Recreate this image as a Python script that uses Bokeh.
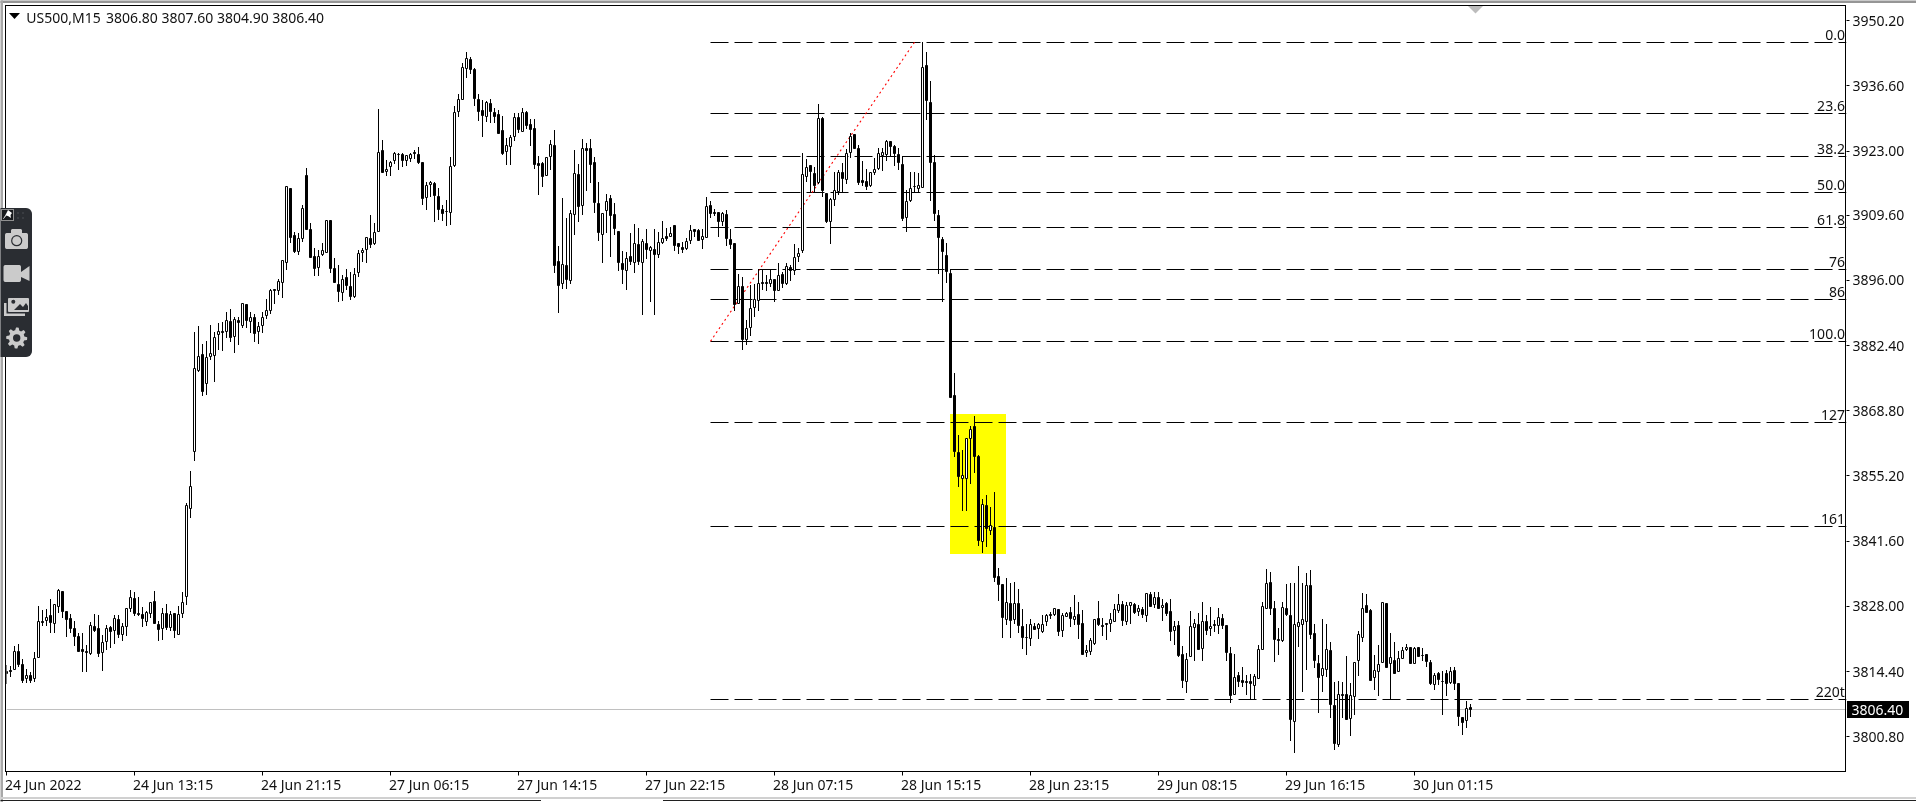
import math
from bokeh.plotting import figure
from bokeh.embed import file_html
from bokeh.resources import INLINE
from bokeh.core.properties import value
from bokeh.models import ColumnDataSource, FixedTicker, LinearAxis, Range1d

symbol_text = "US500,M15"
quote_text = "3806.80 3807.60 3804.90 3806.40"
last_price_text = "3806.40"

opens = [
3814.0,3814.7,3814.9,3818.6,3815.8,3812.9,3813.6,3812.9,3817.3,3824.9,
3825.0,3826.0,3824.5,3827.9,3831.1,3827.0,3825.5,3823.4,3821.8,3819.0,
3818.6,3818.1,3823.8,3823.4,3818.4,3820.6,3823.6,3823.0,3825.3,3822.2,
3823.8,3827.5,3829.7,3826.6,3826.3,3824.9,3826.5,3829.1,3824.3,3823.4,
3826.6,3823.5,3826.6,3822.2,3826.6,3830.0,3848.5,3860.3,3877.2,3880.6,
3874.5,3880.1,3880.4,3884.7,3885.3,3885.3,3887.5,3884.3,3887.7,3886.7,
3890.9,3887.4,3888.3,3885.3,3886.6,3888.7,3889.8,3894.1,3894.0,3895.5,
3899.8,3915.1,3905.4,3902.0,3904.7,3918.0,3906.7,3901.0,3898.7,3901.5,
3901.9,3908.5,3898.4,3895.2,3893.4,3896.7,3894.8,3892.6,3897.6,3901.8,
3902.5,3904.8,3903.7,3906.3,3923.2,3918.8,3919.7,3921.0,3922.3,3922.2,
3921.0,3921.5,3922.6,3922.3,3920.6,3913.3,3916.1,3916.3,3913.6,3910.7,
3910.4,3910.2,3920.0,3931.3,3933.8,3940.3,3942.1,3940.1,3933.8,3931.5,
3930.2,3933.0,3931.1,3930.7,3927.2,3922.9,3923.9,3926.0,3930.0,3927.0,
3931.1,3928.6,3927.7,3920.4,3920.4,3917.9,3921.8,3924.1,3900.0,3895.4,
3899.2,3896.0,3909.8,3918.2,3911.6,3923.6,3923.6,3920.6,3912.1,3905.6,
3910.5,3913.1,3909.8,3906.3,3899.6,3898.0,3901.0,3899.7,3903.6,3899.7,
3903.7,3902.2,3902.5,3901.4,3904.0,3905.2,3905.1,3907.5,3903.7,3902.9,
3902.6,3904.3,3906.6,3906.5,3904.5,3905.0,3911.7,3910.1,3910.1,3908.2,
3909.8,3904.6,3903.7,3891.2,3894.8,3883.6,3886.1,3890.3,3891.9,3895.5,
3895.6,3895.3,3896.2,3894.0,3897.3,3895.3,3898.7,3898.0,3901.0,3902.2,
3917.7,3919.9,3918.4,3916.4,3929.8,3914.2,3908.3,3912.9,3914.5,3918.5,
3917.0,3922.7,3926.5,3923.5,3916.9,3916.7,3915.8,3918.5,3919.4,3922.0,
3922.2,3924.9,3923.9,3922.3,3920.1,3909.2,3912.7,3915.6,3915.2,3915.4,
3940.9,3933.2,3920.6,3909.6,3904.6,3901.2,3897.5,3871.9,3860.1,3854.6,
3854.7,3863.1,3865.6,3859.2,3841.5,3849.0,3843.9,3844.5,3834.3,3832.5,
3825.3,3828.6,3825.3,3828.5,3823.8,3821.5,3821.3,3823.8,3823.4,3822.7,
3824.8,3826.2,3826.2,3827.4,3823.0,3825.9,3826.8,3825.3,3826.2,3824.5,
3818.3,3818.6,3820.3,3825.5,3823.9,3824.4,3824.5,3824.8,3827.2,3828.4,
3824.8,3828.2,3828.4,3826.9,3827.4,3826.1,3830.5,3828.4,3829.9,3827.7,
3828.5,3827.0,3822.9,3824.0,3818.0,3812.3,3817.5,3823.6,3824.3,3819.2,
3824.9,3823.4,3824.2,3823.9,3825.5,3824.0,3818.2,3809.6,3813.5,3812.6,
3812.3,3812.4,3811.5,3812.9,3818.9,3827.5,3833.0,3827.6,3821.0,3820.8,
3827.6,3826.0,3804.0,3823.8,3824.2,3824.8,3832.4,3822.4,3816.1,3813.5,
3814.9,3818.8,3807.4,3799.2,3809.6,3809.6,3804.6,3809.2,3816.7,3821.5,
3828.2,3827.2,3813.1,3814.4,3816.3,3828.5,3816.1,3816.7,3814.4,3817.2,
3819.0,3819.5,3816.1,3819.5,3817.8,3817.9,3816.3,3811.7,3813.9,3812.4,
3813.9,3812.1,3814.7,3811.9,3804.8,3804.2,3806.8]

highs = [
3815.8,3815.6,3819.7,3820.1,3817.0,3814.9,3814.3,3818.4,3828.1,3827.2,
3827.4,3829.5,3828.5,3831.6,3831.3,3827.0,3826.3,3825.0,3822.4,3822.4,
3820.0,3824.7,3826.3,3826.2,3822.0,3824.1,3824.0,3826.2,3826.2,3824.5,
3827.6,3831.4,3830.9,3830.0,3827.8,3827.1,3829.0,3831.2,3825.0,3827.6,
3828.5,3827.0,3826.7,3828.1,3831.0,3849.5,3856.2,3885.3,3886.5,3882.7,
3883.4,3886.7,3885.3,3887.1,3887.4,3889.4,3890.0,3888.3,3888.4,3891.2,
3890.9,3889.5,3889.0,3887.4,3889.5,3892.1,3894.2,3894.3,3896.4,3900.1,
3915.6,3915.2,3906.2,3905.8,3911.8,3919.4,3907.9,3902.7,3902.4,3903.8,
3908.6,3908.6,3900.6,3899.2,3897.1,3898.3,3897.8,3898.5,3902.4,3902.7,
3905.1,3909.7,3907.9,3931.8,3925.3,3921.1,3921.0,3922.9,3922.5,3922.5,
3922.2,3922.5,3923.2,3923.9,3920.6,3916.6,3916.8,3916.6,3915.2,3911.7,
3912.8,3921.7,3932.5,3934.8,3941.3,3943.6,3942.7,3940.3,3935.0,3933.7,
3933.5,3933.8,3931.9,3931.6,3930.3,3925.7,3926.4,3930.9,3931.0,3931.9,
3931.4,3929.6,3929.6,3922.0,3920.8,3921.8,3925.4,3927.4,3903.2,3913.1,
3909.0,3910.8,3923.2,3920.3,3925.6,3924.6,3925.6,3921.7,3916.5,3910.0,
3914.0,3913.8,3912.1,3906.3,3902.1,3902.0,3906.0,3907.8,3906.9,3904.6,
3906.7,3903.1,3906.7,3906.2,3908.4,3906.9,3907.1,3907.5,3903.9,3904.1,
3904.8,3907.5,3906.7,3906.7,3906.7,3913.5,3912.6,3911.0,3910.3,3910.3,
3910.7,3906.7,3903.7,3897.3,3896.7,3887.7,3895.0,3895.3,3898.3,3898.3,
3897.1,3898.3,3896.2,3899.6,3897.8,3899.7,3899.2,3903.6,3902.7,3922.5,
3921.3,3920.1,3919.7,3932.8,3930.2,3914.3,3913.1,3918.7,3919.0,3920.6,
3923.4,3926.8,3926.5,3924.2,3920.9,3919.2,3918.7,3921.5,3923.6,3923.6,
3925.3,3925.1,3924.3,3923.6,3922.0,3914.9,3918.7,3918.7,3918.5,3945.7,
3943.7,3937.6,3922.2,3910.7,3905.0,3903.9,3898.3,3876.6,3863.8,3860.6,
3863.2,3865.6,3867.7,3859.6,3850.5,3851.2,3848.8,3851.9,3836.1,3832.5,
3834.0,3832.8,3833.1,3831.6,3827.4,3824.3,3825.3,3824.5,3824.6,3826.2,
3826.4,3826.9,3827.6,3827.4,3826.6,3826.9,3827.9,3830.4,3829.0,3827.2,
3820.0,3821.3,3825.4,3829.1,3825.5,3824.4,3826.6,3828.5,3830.6,3829.1,
3829.0,3829.0,3828.6,3828.2,3827.8,3830.7,3830.9,3830.9,3830.9,3829.5,
3829.0,3829.5,3825.0,3825.0,3819.8,3818.2,3827.1,3825.4,3826.6,3829.0,
3826.2,3827.8,3825.2,3827.6,3826.4,3824.0,3819.5,3818.1,3814.4,3815.4,
3813.7,3813.9,3813.9,3820.0,3829.0,3835.8,3835.2,3829.1,3823.4,3829.0,
3832.7,3832.8,3832.8,3836.4,3832.8,3834.9,3835.6,3824.3,3817.9,3825.3,
3824.3,3820.6,3812.2,3812.5,3812.2,3817.6,3812.1,3816.3,3822.8,3830.7,
3830.6,3827.4,3817.9,3819.9,3829.0,3828.5,3822.4,3820.6,3818.6,3819.5,
3820.2,3819.6,3819.6,3819.6,3819.3,3817.9,3816.8,3814.0,3814.2,3814.6,
3814.7,3815.3,3815.3,3811.9,3804.8,3808.3,3807.6]

lows = [
3811.9,3813.3,3814.9,3815.4,3812.1,3812.1,3812.1,3812.2,3817.3,3823.9,
3823.8,3822.5,3822.5,3826.6,3825.5,3821.7,3822.5,3819.8,3818.4,3814.4,
3814.2,3817.9,3822.7,3817.5,3814.6,3818.8,3819.4,3820.2,3821.3,3820.8,
3821.8,3826.9,3825.9,3825.9,3823.6,3823.9,3825.6,3824.3,3820.8,3821.0,
3823.1,3822.9,3821.4,3822.0,3825.6,3828.3,3846.5,3858.4,3876.8,3871.9,
3872.1,3879.5,3874.9,3881.5,3881.3,3883.9,3883.2,3880.9,3882.5,3886.0,
3886.0,3885.0,3883.2,3882.7,3885.0,3887.9,3889.1,3891.1,3893.0,3892.3,
3898.2,3903.8,3901.7,3901.3,3904.1,3906.5,3900.6,3897.0,3896.9,3901.0,
3901.7,3897.6,3895.4,3891.6,3891.7,3894.0,3891.9,3892.3,3896.8,3899.9,
3899.7,3902.7,3903.4,3906.2,3918.5,3917.7,3917.7,3920.4,3919.0,3919.7,
3919.9,3920.8,3921.3,3920.4,3911.7,3910.8,3913.5,3908.1,3908.6,3908.5,
3907.4,3907.6,3919.7,3930.2,3933.7,3938.2,3939.1,3932.4,3929.3,3926.0,
3929.1,3928.9,3928.8,3926.6,3922.2,3920.1,3920.0,3925.0,3926.7,3927.0,
3927.7,3924.1,3919.3,3913.8,3915.4,3917.7,3919.0,3897.6,3889.3,3894.3,
3894.3,3895.3,3905.5,3908.2,3909.7,3914.7,3916.3,3910.1,3904.3,3899.7,
3906.0,3900.8,3905.5,3898.0,3895.3,3894.0,3899.2,3897.6,3899.2,3888.7,
3900.4,3891.6,3888.7,3900.6,3903.7,3904.3,3905.0,3902.2,3901.5,3901.8,
3902.4,3903.6,3905.1,3904.3,3902.5,3904.8,3909.0,3909.5,3905.0,3907.4,
3903.2,3902.6,3889.6,3891.1,3881.5,3882.5,3884.4,3888.4,3889.6,3894.1,
3893.8,3894.7,3891.6,3893.7,3894.4,3895.0,3895.9,3897.1,3899.9,3901.7,
3916.6,3914.3,3914.4,3916.1,3913.5,3907.9,3903.6,3911.5,3913.8,3914.2,
3916.1,3921.5,3923.5,3915.9,3915.8,3914.9,3915.6,3918.0,3919.0,3918.9,
3921.0,3921.8,3919.9,3919.0,3908.5,3906.2,3912.4,3914.3,3914.3,3915.3,
3929.5,3912.6,3908.5,3897.3,3891.4,3895.4,3871.4,3859.1,3852.8,3847.8,
3847.8,3853.5,3855.9,3840.5,3839.2,3840.3,3842.9,3833.0,3829.2,3821.3,
3824.1,3821.3,3824.3,3822.4,3819.2,3817.9,3819.7,3823.1,3821.1,3822.5,
3823.8,3825.3,3825.9,3821.8,3821.5,3825.7,3823.6,3824.1,3821.1,3817.9,
3817.5,3817.9,3820.0,3823.8,3821.8,3821.0,3822.7,3824.7,3826.6,3823.9,
3824.1,3824.3,3826.4,3825.9,3825.5,3824.8,3827.8,3827.6,3827.4,3825.0,
3825.9,3820.8,3820.0,3817.4,3810.9,3810.0,3817.5,3816.7,3818.8,3816.5,
3822.0,3821.8,3822.7,3822.2,3823.3,3816.5,3807.9,3809.6,3811.2,3811.1,
3809.5,3808.6,3808.6,3812.8,3818.8,3827.4,3826.2,3816.3,3817.9,3820.6,
3825.9,3800.0,3797.5,3819.6,3810.2,3814.7,3821.1,3815.1,3805.8,3810.2,
3813.2,3804.6,3798.0,3798.7,3804.6,3804.2,3801.0,3805.3,3813.5,3820.6,
3826.6,3812.5,3810.6,3809.2,3816.1,3815.1,3808.6,3813.9,3814.4,3817.2,
3818.6,3816.0,3816.0,3817.4,3816.5,3815.3,3811.6,3810.6,3811.6,3805.3,
3809.2,3811.9,3810.5,3803.1,3801.2,3802.7,3804.9]

closes = [
3814.5,3814.4,3818.6,3815.8,3812.6,3813.5,3812.6,3817.2,3824.9,3824.6,
3825.7,3824.6,3828.3,3831.4,3826.9,3825.3,3823.3,3821.8,3818.5,3818.5,
3818.4,3824.0,3822.9,3818.1,3820.5,3823.4,3822.7,3825.5,3822.2,3823.8,
3827.5,3829.9,3826.5,3826.2,3825.4,3826.8,3828.9,3824.4,3823.2,3826.6,
3823.6,3826.4,3822.9,3826.3,3828.9,3849.1,3853.0,3877.7,3880.2,3872.8,
3880.0,3880.8,3884.1,3885.3,3885.1,3887.6,3884.0,3887.9,3887.2,3891.2,
3887.6,3888.3,3885.0,3886.4,3888.2,3889.7,3893.8,3894.0,3895.7,3900.1,
3915.6,3904.9,3902.1,3904.8,3911.1,3906.7,3900.8,3898.5,3901.0,3902.2,
3908.6,3898.5,3895.5,3893.7,3896.2,3894.9,3892.6,3897.3,3901.7,3902.2,
3904.9,3903.5,3906.0,3922.7,3918.6,3919.2,3920.6,3922.5,3922.2,3921.1,
3922.0,3922.3,3922.5,3920.6,3913.1,3915.9,3916.5,3913.8,3910.8,3910.0,
3910.3,3919.7,3931.0,3933.8,3940.5,3942.3,3940.1,3933.9,3931.2,3930.4,
3933.1,3931.2,3930.2,3926.7,3922.5,3924.2,3925.9,3930.0,3927.4,3931.1,
3928.3,3927.4,3920.2,3920.0,3917.7,3921.7,3924.4,3899.2,3894.9,3899.4,
3896.1,3910.0,3918.4,3911.4,3923.6,3923.1,3920.2,3912.2,3906.0,3910.0,
3912.5,3909.5,3906.8,3899.7,3898.2,3900.6,3900.0,3903.7,3899.9,3904.2,
3902.4,3902.8,3901.5,3904.0,3904.8,3904.7,3905.7,3903.2,3903.0,3902.4,
3904.2,3906.5,3906.2,3904.3,3905.2,3911.5,3910.0,3910.0,3908.4,3910.0,
3904.7,3903.4,3891.0,3894.8,3883.6,3886.0,3890.2,3892.1,3895.4,3895.4,
3895.3,3896.2,3893.8,3897.1,3895.3,3898.9,3898.0,3900.8,3901.7,3918.1,
3919.6,3918.7,3915.9,3929.8,3914.7,3908.3,3912.8,3914.7,3918.5,3917.2,
3922.5,3926.1,3923.6,3916.4,3916.5,3915.6,3918.5,3919.2,3922.4,3922.7,
3925.0,3923.9,3922.5,3920.6,3909.0,3912.5,3915.2,3915.5,3915.9,3940.5,
3933.5,3920.7,3910.0,3904.9,3902.0,3897.8,3871.6,3860.3,3855.1,3855.3,
3863.1,3864.8,3859.2,3841.7,3849.3,3844.3,3844.8,3834.1,3832.5,3825.6,
3828.8,3825.0,3828.6,3823.9,3821.5,3821.4,3824.2,3823.1,3824.3,3824.3,
3826.0,3826.1,3827.6,3822.7,3826.1,3826.6,3825.4,3825.9,3824.3,3817.9,
3818.8,3820.9,3825.3,3824.3,3823.8,3824.3,3825.2,3827.4,3828.3,3825.0,
3828.1,3828.8,3826.7,3827.6,3826.3,3830.7,3827.9,3829.9,3827.5,3828.2,
3826.6,3822.7,3823.8,3817.7,3812.5,3817.0,3823.8,3824.4,3818.9,3824.9,
3822.9,3823.8,3824.1,3825.7,3824.1,3818.4,3809.4,3813.2,3812.3,3812.1,
3812.2,3811.9,3813.4,3819.0,3828.0,3832.8,3827.6,3821.1,3820.9,3827.8,
3826.3,3804.4,3824.3,3824.6,3825.2,3832.3,3822.2,3816.7,3813.2,3815.1,
3819.0,3807.6,3799.4,3809.6,3809.5,3804.3,3809.4,3816.3,3822.2,3827.6,
3826.7,3812.5,3814.7,3815.9,3828.8,3815.3,3817.4,3814.0,3817.2,3818.8,
3819.5,3816.1,3819.3,3817.5,3817.7,3816.4,3811.9,3813.5,3812.8,3812.3,
3811.9,3814.4,3811.8,3805.0,3803.8,3806.7,3806.4]

price_ticks = [3950.2, 3936.6, 3923.0, 3909.6, 3896.0, 3882.4, 3868.8, 3855.2, 3841.6, 3828.0, 3814.4, 3800.8]
time_ticks = [0, 32, 64, 96, 128, 160, 192, 224, 256, 288, 320, 352]
time_labels = ["24 Jun 2022", "24 Jun 13:15", "24 Jun 21:15", "27 Jun 06:15", "27 Jun 14:15", "27 Jun 22:15",
               "28 Jun 07:15", "28 Jun 15:15", "28 Jun 23:15", "29 Jun 08:15", "29 Jun 16:15", "30 Jun 01:15"]

fib_labels = ["0.0", "23.6", "38.2", "50.0", "61.8", "76", "86", "100.0", "127", "161", "220t"]
fib_prices = [3945.66, 3930.84, 3921.87, 3914.36, 3907.05, 3898.29, 3892.03, 3883.26, 3866.36, 3844.66, 3808.56]
fib_start = 176
trend_bars = [176, 227]
trend_prices = [3883.3, 3945.7]
zone_bars = [236, 250]
zone_prices = [3838.92, 3868.13]
last_price = 3806.4

W, H = 1916, 802
FONT = "Noto Sans"
FS = "14px"
INK = "#111111"
FRAME_L, FRAME_R, FRAME_T, FRAME_B = 6, 1846, 5, 771
# Bokeh draws its glyphs half a pixel right of and below the scale's position
X0, X1 = 0, 460
Y_BOTTOM, Y_TOP = 3793.54, 3953.37
PX_PER_POINT = (FRAME_B - FRAME_T) / (Y_TOP - Y_BOTTOM)
HALF_BAR = 0.125
FIXED = {"position": "fixed", "left": "0px", "top": "0px"}


def edge(v):
    """Price moved onto the nearest pixel boundary, so that wick ends stay sharp."""
    return Y_TOP - (math.floor((Y_TOP - v) * PX_PER_POINT) + 0.5) / PX_PER_POINT


def row(v):
    """Price moved onto the middle of its pixel row, so that 1px lines stay sharp."""
    return Y_TOP - math.floor((Y_TOP - v) * PX_PER_POINT + 0.5) / PX_PER_POINT


p = figure(width=W, height=H, output_backend="svg", toolbar_location=None,
           x_range=Range1d(X0, X1), y_range=Range1d(Y_BOTTOM, Y_TOP),
           min_border_left=FRAME_L, min_border_right=W - FRAME_R, min_border_top=FRAME_T, min_border_bottom=H - FRAME_B,
           x_axis_location=None, y_axis_location=None, outline_line_color=None,
           background_fill_color="white", border_fill_color="white")
p.styles = FIXED
p.grid.visible = False

yax = LinearAxis(ticker=FixedTicker(ticks=price_ticks),
                 major_label_overrides={t: f"{t:.2f}" for t in price_ticks},
                 axis_line_color=None, major_tick_line_color="black", major_tick_out=3, major_tick_in=0,
                 minor_tick_line_color=None, major_label_standoff=3,
                 major_label_text_font=FONT, major_label_text_font_size=FS, major_label_text_color=INK)
p.add_layout(yax, "right")
xax = LinearAxis(ticker=FixedTicker(ticks=time_ticks),
                 major_label_overrides={t: "" for t in time_ticks},
                 axis_line_color=None, major_tick_line_color="black", major_tick_out=4, major_tick_in=0,
                 minor_tick_line_color=None, major_label_standoff=0,
                 major_label_text_font=FONT, major_label_text_font_size=FS)
p.add_layout(xax, "below")

# zone, fib levels, trend line and price line lie behind the candles
p.quad(left=[zone_bars[0] - HALF_BAR], right=[zone_bars[1] - HALF_BAR],
       bottom=[edge(zone_prices[0])], top=[edge(zone_prices[1])],
       fill_color="#ffff00", line_color=None)
fib_y = [row(v) for v in fib_prices]
p.segment(x0=[fib_start] * len(fib_y), x1=[X1] * len(fib_y), y0=fib_y, y1=fib_y,
          line_color="black", line_width=1, line_dash="18 6")
p.line(trend_bars, trend_prices, line_color="#ff0000", line_width=1.1, line_dash="2 3")
p.segment(x0=[X0], x1=[X1], y0=[row(last_price)], y1=[row(last_price)], line_color="#c0c0c0", line_width=1)
p.text(x=[X1 - 0.4] * len(fib_y), y=fib_y, text=fib_labels, text_align="right", text_baseline="middle",
       y_offset=-8, text_font=value(FONT), text_font_size=FS, text_color=INK)

idx = list(range(len(opens)))
src = ColumnDataSource(dict(
    x=idx,
    h=[edge(v) for v in highs],
    l=[edge(v) for v in lows],
    top=[row(max(a, b)) for a, b in zip(opens, closes)],
    bottom=[row(min(a, b)) for a, b in zip(opens, closes)],
    fill=["white" if b >= a else "black" for a, b in zip(opens, closes)]))
p.segment(x0="x", x1="x", y0="l", y1="h", source=src, line_color="black", line_width=1)
p.vbar(x="x", width=0.5, top="top", bottom="bottom", source=src, fill_color="fill", line_color="black", line_width=1)

# second transparent layer: page furniture that lies outside the plot frame, in page pixels
c = figure(width=W, height=H, output_backend="svg", toolbar_location=None,
           x_range=Range1d(0.5, W + 0.5), y_range=Range1d(H + 0.5, 0.5),
           min_border_left=0, min_border_right=0, min_border_top=0, min_border_bottom=0,
           x_axis_location=None, y_axis_location=None, outline_line_color=None,
           background_fill_color=None, border_fill_color=None)
c.styles = {**FIXED, "z-index": "5"}
c.grid.visible = False


def box(l, t, r, b, color):
    c.quad(left=[l], right=[r], top=[t], bottom=[b], fill_color=color, line_color=None)


def rounded(l, t, r, b, rad, color, corners=(True, True, True, True)):
    xs, ys = [], []
    spots = [(r - rad, t + rad, -90, corners[1]), (r - rad, b - rad, 0, corners[2]),
             (l + rad, b - rad, 90, corners[3]), (l + rad, t + rad, 180, corners[0])]
    for cx, cy, start, on in spots:
        if on:
            for s in range(7):
                a = math.radians(start + 15 * s)
                xs.append(cx + rad * math.cos(a))
                ys.append(cy + rad * math.sin(a))
        else:
            xs.append(r if cx > (l + r) / 2 else l)
            ys.append(b if cy > (t + b) / 2 else t)
    c.patch(xs, ys, fill_color=color, line_color=None)


def poly(xs, ys, color):
    c.patch(xs, ys, fill_color=color, line_color=None)


def dot(x, y, r, color):
    c.circle(x=[x], y=[y], radius=r, fill_color=color, line_color=None)


def txt(x, y, s, color=INK):
    c.text(x=[x], y=[y], text=[s], text_color=color, text_font=value(FONT), text_font_size=FS,
           text_baseline="middle", text_align="left")


# window edges and plot frame
box(0, 0, W, 3, "#969696")
box(0, 0, 3, H, "#a8a8a8")
box(0, 797, W, 799, "#d0d0d0")
box(0, 800, 541, 801, "#202020")
box(663, 800, W, 801, "#202020")
box(5, 5, FRAME_R, 6, "black")
box(5, 5, 6, FRAME_B + 1, "black")
box(FRAME_R - 1, 5, FRAME_R, FRAME_B + 1, "black")
box(5, FRAME_B, FRAME_R, FRAME_B + 1, "black")

# time labels start at their ticks
for t, lab in zip(time_ticks, time_labels):
    txt(FRAME_L + 0.5 + 4 * t - 1.5, 784, lab)

# current price flag
box(1847, 701, 1909, 718, "black")
txt(1851.5, 710, last_price_text, "white")

# symbol line
poly([9, 20, 14.5], [13, 13, 19], "black")
txt(26.3, 17, symbol_text)
txt(106, 17, quote_text)

# marker at the top of the frame
poly([1468, 1483, 1475.5], [6, 6, 13.5], "#bcbcbc")

# side tool panel
PANEL = "#2a2d32"
ICON = "#cbcbcb"
rounded(0, 208, 32, 357, 6, PANEL, corners=(False, True, True, False))
box(1, 209, 14, 221, "#909090")
box(2, 210, 13, 220, "#17191c")
poly([3, 6, 8, 12, 10.5, 11, 8, 5.5, 6, 3.5], [219, 214, 210, 213, 215, 218, 216, 215.5, 216, 219], "white")
for dx in (17, 22):
    for dy in (212, 217):
        box(dx, dy, dx + 2, dy + 2, "#3a3d42")
rounded(5, 233, 28, 249, 2, ICON)
rounded(11, 229, 22, 235, 1.5, ICON)
dot(16.7, 240.7, 5.6, PANEL)
dot(16.7, 240.7, 4.4, ICON)
rounded(3.5, 265, 21, 282, 2, ICON)
poly([21, 29.5, 29.5, 21], [272, 266, 281, 277], ICON)
rounded(8, 298, 29, 312, 1, ICON)
poly([14, 20, 23, 26, 28, 28, 14], [310, 304, 307, 303, 306, 310, 310], PANEL)
dot(13.3, 301.7, 2, PANEL)
box(4, 303, 6.5, 316, ICON)
box(4, 313.5, 25, 316, ICON)
gear_x, gear_y = [], []
for k in range(48):
    a = 2 * math.pi * (k + 0.5) / 48
    r = 10.5 if (k % 6) in (0, 1, 5) else 7.8
    gear_x.append(16.7 + r * math.cos(a))
    gear_y.append(338 + r * math.sin(a))
poly(gear_x, gear_y, ICON)
dot(16.7, 338, 3.7, PANEL)

open("out.html", "w").write(file_html([p, c], INLINE))
